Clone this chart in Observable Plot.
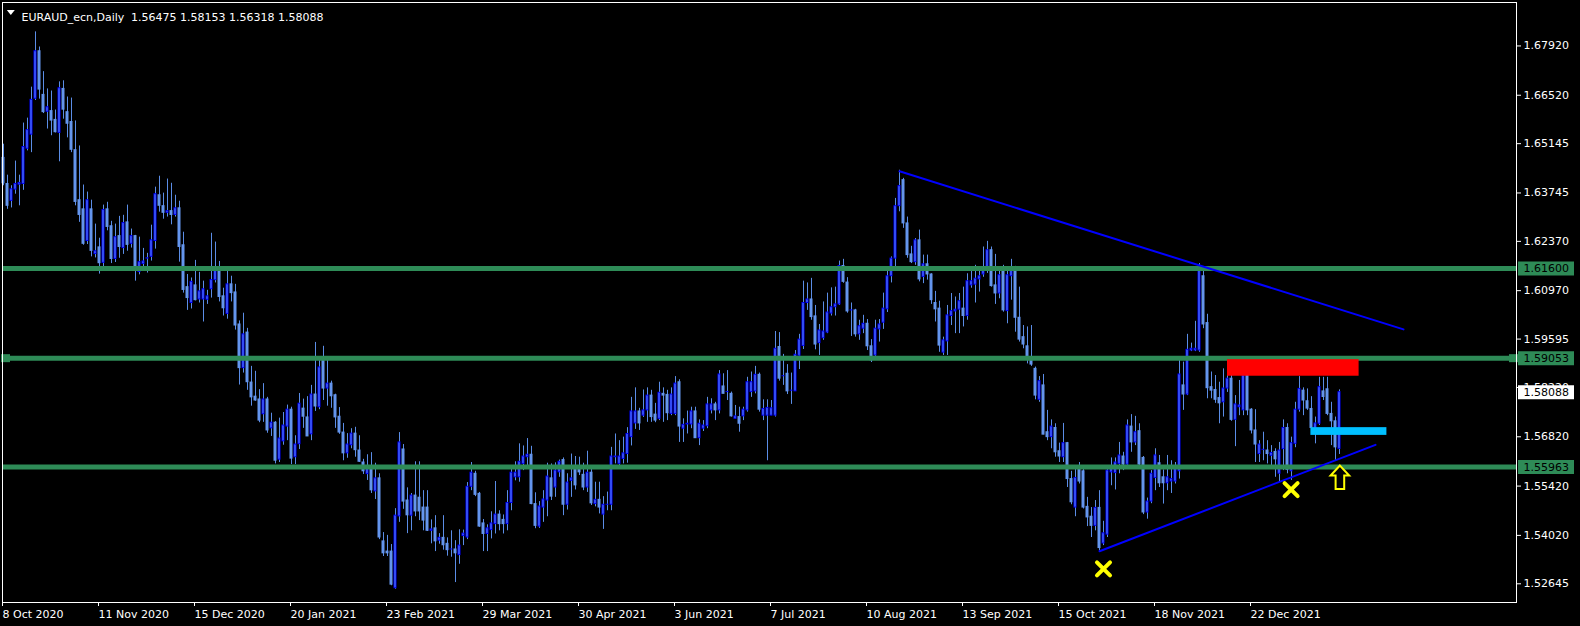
<!DOCTYPE html>
<html><head><meta charset="utf-8">
<script src="https://cdn.jsdelivr.net/npm/d3@7"></script>
<script src="https://cdn.jsdelivr.net/npm/@observablehq/plot@0.6"></script>
<style>
html,body{margin:0;padding:0;background:#000;}
#chart{width:1580px;height:626px;overflow:hidden;}
</style></head><body><div id="chart"></div>
<script>
const symbolName = "EURAUD_ecn,Daily";
const headerValues = "1.56475 1.58153 1.56318 1.58088";

const opens = [
1.6474,1.6400,1.6352,1.6384,1.6398,1.6400,1.6500,1.6540,1.6642,1.6777,
1.6653,1.6605,1.6607,1.6582,1.6545,1.6670,1.6604,1.6576,1.6496,1.6354,
1.6328,1.6238,1.6328,1.6201,1.6220,1.6176,1.6328,1.6280,1.6187,1.6252,
1.6218,1.6291,1.6230,1.6252,1.6150,1.6173,1.6188,1.6193,1.6238,1.6368,
1.6337,1.6318,1.6323,1.6312,1.6331,1.6226,1.6107,1.6062,1.6112,1.6072,
1.6072,1.6071,1.6101,1.6127,1.6158,1.6081,1.6031,1.6115,1.6092,1.6001,
1.5877,1.5978,1.5836,1.5796,1.5788,1.5746,1.5788,1.5706,1.5722,1.5617,
1.5669,1.5711,1.5759,1.5624,1.5661,1.5762,1.5737,1.5689,1.5802,1.5766,
1.5899,1.5819,1.5833,1.5800,1.5739,1.5694,1.5635,1.5658,1.5691,1.5643,
1.5609,1.5576,1.5595,1.5527,1.5564,1.5385,1.5356,1.5356,1.5252,1.5456,
1.5646,1.5501,1.5458,1.5515,1.5509,1.5481,1.5481,1.5415,1.5422,1.5387,
1.5395,1.5378,1.5362,1.5362,1.5346,1.5400,1.5396,1.5540,1.5577,1.5520,
1.5436,1.5406,1.5417,1.5434,1.5461,1.5446,1.5434,1.5494,1.5567,1.5567,
1.5605,1.5624,1.5631,1.5491,1.5427,1.5481,1.5501,1.5564,1.5538,1.5581,
1.5616,1.5489,1.5557,1.5588,1.5591,1.5574,1.5538,1.5580,1.5491,1.5503,
1.5461,1.5489,1.5489,1.5624,1.5605,1.5619,1.5633,1.5681,1.5720,1.5754,
1.5742,1.5757,1.5799,1.5745,1.5733,1.5804,1.5801,1.5747,1.5747,1.5837,
1.5705,1.5717,1.5717,1.5754,1.5678,1.5705,1.5712,1.5757,1.5774,1.5757,
1.5825,1.5809,1.5804,1.5733,1.5738,1.5740,1.5757,1.5809,1.5811,1.5858,
1.5742,1.5742,1.5742,1.5742,1.5937,1.5854,1.5861,1.5813,1.5811,1.5912,
1.5940,1.6062,1.6072,1.6024,1.5948,1.5962,1.5978,1.6032,1.6050,1.6058,
1.6167,1.6120,1.6041,1.6041,1.5973,1.5989,1.6003,1.5939,1.5913,1.5987,
1.6006,1.6044,1.6138,1.6188,1.6337,1.6411,1.6288,1.6200,1.6178,1.6240,
1.6136,1.6172,1.6143,1.6062,1.6046,1.5921,1.5953,1.6025,1.6038,1.6043,
1.6046,1.6025,1.6112,1.6114,1.6129,1.6143,1.6155,1.6212,1.6112,1.6089,
1.6164,1.6039,1.6138,1.6157,1.6020,1.5965,1.5939,1.5901,1.5875,1.5787,
1.5828,1.5695,1.5681,1.5707,1.5641,1.5624,1.5664,1.5562,1.5481,1.5591,
1.5584,1.5483,1.5455,1.5429,1.5480,1.5379,1.5404,1.5581,1.5579,1.5605,
1.5626,1.5603,1.5711,1.5666,1.5698,1.5622,1.5467,1.5498,1.5565,1.5607,
1.5567,1.5550,1.5555,1.5555,1.5584,1.5828,1.5802,1.5927,1.5927,1.5927,
1.6138,1.6005,1.5823,1.5815,1.5792,1.5780,1.5819,1.5847,1.5730,1.5766,
1.5757,1.5856,1.5759,1.5700,1.5633,1.5645,1.5643,1.5628,1.5639,1.5577,
1.5647,1.5707,1.5584,1.5662,1.5759,1.5813,1.5783,1.5761,1.5704,1.5719,
1.5811,1.5817,1.5747,1.5726,1.56475];

const highs = [
1.6513,1.6425,1.6395,1.6465,1.6425,1.6573,1.6587,1.6675,1.6832,1.6789,
1.6719,1.6670,1.6664,1.6610,1.6690,1.6693,1.6647,1.6644,1.6579,1.6508,
1.6397,1.6377,1.6354,1.6286,1.6246,1.6340,1.6348,1.6294,1.6286,1.6308,
1.6311,1.6340,1.6272,1.6254,1.6249,1.6217,1.6203,1.6283,1.6391,1.6422,
1.6374,1.6414,1.6402,1.6368,1.6351,1.6263,1.6143,1.6133,1.6183,1.6149,
1.6124,1.6098,1.6260,1.6235,1.6180,1.6104,1.6155,1.6138,1.6115,1.6011,
1.6033,1.5990,1.5882,1.5868,1.5816,1.5833,1.5794,1.5749,1.5725,1.5735,
1.5751,1.5772,1.5766,1.5685,1.5805,1.5789,1.5796,1.5828,1.5950,1.5899,
1.5939,1.5899,1.5840,1.5803,1.5765,1.5720,1.5691,1.5705,1.5709,1.5685,
1.5618,1.5631,1.5637,1.5607,1.5577,1.5410,1.5402,1.5376,1.5478,1.5694,
1.5660,1.5537,1.5521,1.5611,1.5611,1.5529,1.5529,1.5446,1.5458,1.5407,
1.5458,1.5395,1.5415,1.5387,1.5418,1.5417,1.5552,1.5609,1.5584,1.5524,
1.5447,1.5432,1.5469,1.5555,1.5472,1.5460,1.5529,1.5598,1.5611,1.5662,
1.5656,1.5677,1.5655,1.5523,1.5498,1.5529,1.5607,1.5605,1.5608,1.5616,
1.5622,1.5577,1.5633,1.5626,1.5624,1.5607,1.5641,1.5595,1.5553,1.5553,
1.5512,1.5525,1.5652,1.5690,1.5671,1.5681,1.5708,1.5794,1.5821,1.5763,
1.5815,1.5821,1.5814,1.5777,1.5837,1.5821,1.5814,1.5821,1.5853,1.5844,
1.5733,1.5755,1.5766,1.5766,1.5730,1.5728,1.5794,1.5790,1.5780,1.5870,
1.5861,1.5870,1.5809,1.5771,1.5766,1.5766,1.5851,1.5866,1.5882,1.5863,
1.5787,1.5787,1.5785,1.5981,1.5978,1.5916,1.5887,1.5863,1.5927,1.5973,
1.6124,1.6119,1.6132,1.6055,1.6001,1.6065,1.6090,1.6105,1.6107,1.6181,
1.6186,1.6134,1.6062,1.6044,1.6013,1.6027,1.6015,1.5958,1.6013,1.6015,
1.6090,1.6157,1.6193,1.6359,1.6439,1.6416,1.6306,1.6223,1.6245,1.6269,
1.6198,1.6198,1.6145,1.6095,1.6067,1.5965,1.6055,1.6089,1.6079,1.6089,
1.6107,1.6145,1.6160,1.6169,1.6164,1.6221,1.6237,1.6221,1.6200,1.6164,
1.6169,1.6164,1.6186,1.6166,1.6107,1.5998,1.5994,1.5998,1.5880,1.5853,
1.5859,1.5757,1.5730,1.5719,1.5664,1.5720,1.5666,1.5584,1.5591,1.5609,
1.5595,1.5510,1.5481,1.5501,1.5529,1.5442,1.5595,1.5622,1.5622,1.5666,
1.5638,1.5730,1.5745,1.5740,1.5719,1.5626,1.5508,1.5586,1.5648,1.5629,
1.5588,1.5629,1.5614,1.5609,1.5901,1.5894,1.5973,1.5948,1.6010,1.6174,
1.6157,1.6030,1.5866,1.5856,1.5837,1.5875,1.5899,1.5882,1.5799,1.5842,
1.5885,1.5882,1.5762,1.5759,1.5671,1.5695,1.5671,1.5657,1.5648,1.5666,
1.5730,1.5719,1.5681,1.5780,1.5853,1.5821,1.5818,1.5796,1.5738,1.5851,
1.5851,1.5851,1.5780,1.5738,1.58153];

const lows = [
1.6395,1.6328,1.6332,1.6371,1.6338,1.6382,1.6494,1.6489,1.6637,1.6641,
1.6600,1.6556,1.6537,1.6545,1.6463,1.6584,1.6531,1.6489,1.6338,1.6291,
1.6226,1.6228,1.6193,1.6190,1.6144,1.6164,1.6267,1.6174,1.6177,1.6189,
1.6200,1.6209,1.6218,1.6124,1.6142,1.6159,1.6147,1.6181,1.6215,1.6320,
1.6300,1.6306,1.6284,1.6306,1.6178,1.6090,1.6041,1.6045,1.6068,1.6062,
1.6008,1.6058,1.6076,1.6119,1.6065,1.6025,1.6016,1.6065,1.5985,1.5829,
1.5863,1.5814,1.5769,1.5783,1.5722,1.5723,1.5692,1.5683,1.5605,1.5609,
1.5658,1.5671,1.5603,1.5603,1.5646,1.5706,1.5683,1.5671,1.5754,1.5759,
1.5785,1.5769,1.5763,1.5706,1.5689,1.5614,1.5621,1.5648,1.5624,1.5609,
1.5575,1.5558,1.5521,1.5504,1.5390,1.5342,1.5342,1.5259,1.5249,1.5439,
1.5476,1.5407,1.5415,1.5455,1.5444,1.5415,1.5413,1.5378,1.5356,1.5377,
1.5360,1.5343,1.5340,1.5268,1.5320,1.5373,1.5390,1.5529,1.5512,1.5425,
1.5356,1.5356,1.5392,1.5406,1.5415,1.5406,1.5415,1.5472,1.5557,1.5553,
1.5586,1.5592,1.5489,1.5421,1.5422,1.5439,1.5455,1.5501,1.5510,1.5567,
1.5458,1.5474,1.5510,1.5531,1.5572,1.5529,1.5524,1.5487,1.5483,1.5463,
1.5419,1.5472,1.5472,1.5605,1.5595,1.5605,1.5607,1.5656,1.5703,1.5700,
1.5737,1.5723,1.5723,1.5722,1.5728,1.5723,1.5728,1.5742,1.5742,1.5666,
1.5666,1.5690,1.5705,1.5678,1.5657,1.5697,1.5705,1.5747,1.5728,1.5747,
1.5804,1.5785,1.5738,1.5733,1.5695,1.5728,1.5752,1.5794,1.5804,1.5752,
1.5728,1.5614,1.5742,1.5738,1.5840,1.5828,1.5802,1.5774,1.5811,1.5873,
1.5930,1.6041,1.6013,1.5929,1.5913,1.5956,1.5975,1.6025,1.6025,1.6055,
1.6118,1.6033,1.5967,1.5965,1.5956,1.5975,1.5927,1.5893,1.5899,1.5951,
1.5987,1.6035,1.6119,1.6164,1.6321,1.6274,1.6189,1.6174,1.6169,1.6122,
1.6117,1.6127,1.6058,1.6008,1.5922,1.5913,1.5913,1.5998,1.5975,1.5975,
1.5994,1.6013,1.6104,1.6062,1.6093,1.6135,1.6146,1.6107,1.6058,1.6074,
1.6036,1.6003,1.6070,1.5979,1.5951,1.5932,1.5889,1.5882,1.5787,1.5780,
1.5688,1.5671,1.5648,1.5624,1.5609,1.5609,1.5538,1.5489,1.5455,1.5548,
1.5477,1.5427,1.5396,1.5415,1.5358,1.5373,1.5396,1.5543,1.5531,1.5577,
1.5586,1.5600,1.5638,1.5657,1.5595,1.5461,1.5448,1.5492,1.5529,1.5538,
1.5491,1.5529,1.5521,1.5548,1.5562,1.5757,1.5799,1.5924,1.5924,1.5922,
1.5989,1.5790,1.5790,1.5777,1.5719,1.5738,1.5808,1.5726,1.5654,1.5742,
1.5742,1.5742,1.5690,1.5609,1.5609,1.5614,1.5605,1.5592,1.5567,1.5553,
1.5586,1.5577,1.5558,1.5651,1.5752,1.5742,1.5757,1.5700,1.5662,1.5714,
1.5785,1.5742,1.5657,1.5614,1.56318];

const closes = [
1.6402,1.6338,1.6385,1.6400,1.6403,1.6505,1.6553,1.6639,1.6777,1.6668,
1.6604,1.6618,1.6580,1.6547,1.6672,1.6611,1.6571,1.6497,1.6349,1.6312,
1.6230,1.6354,1.6210,1.6209,1.6175,1.6326,1.6278,1.6187,1.6249,1.6221,
1.6289,1.6227,1.6252,1.6158,1.6178,1.6180,1.6189,1.6240,1.6371,1.6338,
1.6318,1.6323,1.6312,1.6331,1.6221,1.6099,1.6076,1.6122,1.6070,1.6095,
1.6101,1.6081,1.6127,1.6158,1.6079,1.6047,1.6115,1.6090,1.5998,1.5877,
1.5973,1.5837,1.5794,1.5785,1.5728,1.5788,1.5700,1.5722,1.5614,1.5677,
1.5714,1.5759,1.5620,1.5660,1.5776,1.5739,1.5683,1.5802,1.5768,1.5879,
1.5819,1.5833,1.5797,1.5737,1.5694,1.5635,1.5660,1.5691,1.5644,1.5611,
1.5584,1.5595,1.5530,1.5564,1.5396,1.5351,1.5351,1.5262,1.5458,1.5666,
1.5498,1.5459,1.5515,1.5470,1.5470,1.5444,1.5415,1.5419,1.5385,1.5395,
1.5374,1.5360,1.5362,1.5351,1.5373,1.5407,1.5540,1.5580,1.5517,1.5427,
1.5406,1.5422,1.5436,1.5461,1.5434,1.5434,1.5494,1.5580,1.5580,1.5611,
1.5626,1.5631,1.5491,1.5429,1.5484,1.5504,1.5569,1.5512,1.5586,1.5611,
1.5489,1.5552,1.5564,1.5544,1.5581,1.5538,1.5580,1.5493,1.5503,1.5481,
1.5489,1.5489,1.5626,1.5626,1.5626,1.5635,1.5690,1.5754,1.5754,1.5720,
1.5757,1.5799,1.5738,1.5728,1.5807,1.5799,1.5749,1.5802,1.5833,1.5711,
1.5716,1.5719,1.5754,1.5678,1.5719,1.5714,1.5774,1.5774,1.5757,1.5859,
1.5804,1.5809,1.5740,1.5740,1.5719,1.5759,1.5837,1.5837,1.5858,1.5759,
1.5761,1.5764,1.5763,1.5932,1.5847,1.5854,1.5811,1.5813,1.5915,1.5958,
1.6062,1.6072,1.6022,1.5944,1.5984,1.5981,1.6035,1.6050,1.6058,1.6167,
1.6122,1.6038,1.6041,1.5973,1.5996,1.6003,1.5939,1.5899,1.5989,1.6001,
1.6046,1.6138,1.6188,1.6337,1.6394,1.6288,1.6198,1.6178,1.6240,1.6129,
1.6172,1.6143,1.6070,1.6044,1.5941,1.5956,1.6027,1.6039,1.6043,1.6067,
1.6025,1.6124,1.6124,1.6131,1.6138,1.6157,1.6212,1.6110,1.6089,1.6141,
1.6041,1.6141,1.6164,1.6020,1.5958,1.5944,1.5901,1.5887,1.5799,1.5840,
1.5688,1.5681,1.5711,1.5638,1.5626,1.5664,1.5562,1.5496,1.5565,1.5555,
1.5481,1.5453,1.5429,1.5480,1.5366,1.5408,1.5586,1.5591,1.5609,1.5629,
1.5603,1.5714,1.5666,1.5695,1.5603,1.5467,1.5498,1.5577,1.5629,1.5550,
1.5550,1.5567,1.5562,1.5591,1.5859,1.5802,1.5929,1.5932,1.5932,1.6157,
1.6001,1.5820,1.5813,1.5787,1.5777,1.5819,1.5847,1.5730,1.5774,1.5771,
1.5856,1.5757,1.5700,1.5660,1.5660,1.5645,1.5633,1.5636,1.5618,1.5643,
1.5707,1.5588,1.5664,1.5759,1.5818,1.5785,1.5762,1.5707,1.5720,1.5823,
1.5795,1.5747,1.5726,1.5652,1.58088];

const dateTickBars = [0,24,48,72,96,120,144,168,192,216,240,264,288,312];
const dateTickLabels = ["8 Oct 2020","11 Nov 2020","15 Dec 2020","20 Jan 2021","23 Feb 2021","29 Mar 2021","30 Apr 2021","3 Jun 2021","7 Jul 2021","10 Aug 2021","13 Sep 2021","15 Oct 2021","18 Nov 2021","22 Dec 2021"];
const priceTicks = [1.67920,1.66520,1.65145,1.63745,1.62370,1.60970,1.59595,1.58220,1.56820,1.55420,1.54020,1.52645];
const levels = [1.61600, 1.59053, 1.55963];
const selectedLevel = [1.59053];
const lastPrice = [1.58088];
const trendUpper = [{bar:224, price:1.6436},{bar:350, price:1.5987}];
const trendLower = [{bar:274, price:1.5357},{bar:343, price:1.5659}];
const redZone = [{bar1:306, bar2:338.9, top:1.5901, bottom:1.5854}];
const cyanZone = [{bar1:326.85, bar2:345.85, top:1.5708, bottom:1.5686}];
const crossMarks = [{bar:275, price:1.5307},{bar:321.9, price:1.5532}];
const arrowMarks = [{bar:334.1, price:1.5567}];

const xDomain = [-0.25, 378.25];
const yDomain = [1.52114, 1.69154];

const candles = opens.map((o, i) => ({i, o, h: highs[i], l: lows[i], c: closes[i]}));
const bulls = candles.filter(d => d.c >= d.o);
const bears = candles.filter(d => d.c < d.o);

const BODY = "#6495ed", BULL_EDGE = "#0000ff", WICK = "#5b8de6";
const GREEN = "#2e8b57";
const HW = 0.375;

const arrowSymbol = {draw(ctx, size) {
  const s = Math.sqrt(size / Math.PI);
  ctx.moveTo(0, -11.7*s); ctx.lineTo(9.3*s, -1.7*s); ctx.lineTo(4.3*s, -1.7*s);
  ctx.lineTo(4.3*s, 11.7*s); ctx.lineTo(-4.3*s, 11.7*s); ctx.lineTo(-4.3*s, -1.7*s);
  ctx.lineTo(-9.3*s, -1.7*s); ctx.closePath();
}};
const menuSymbol = {draw(ctx, size) {
  const s = Math.sqrt(size / Math.PI);
  ctx.moveTo(-4*s, -2.5*s); ctx.lineTo(4*s, -2.5*s); ctx.lineTo(0, 2.5*s); ctx.closePath();
}};

const chart = Plot.plot({
  width: 1580, height: 626,
  marginLeft: 2, marginRight: 64, marginTop: 2, marginBottom: 24,
  x: {type: "linear", domain: xDomain, axis: null},
  y: {type: "linear", domain: yDomain, axis: null},
  style: {background: "#000", color: "#fff", fontFamily: "DejaVu Sans", fontSize: "11px"},
  marks: [
    Plot.ruleX(candles, {x: "i", y1: "l", y2: "h", stroke: WICK, strokeWidth: 1}),
    Plot.rect(bears, {x1: d => d.i - HW, x2: d => d.i + HW, y1: "o", y2: "c", fill: BODY, insetTop: -0.5, insetBottom: -0.5}),
    Plot.rect(bulls, {x1: d => d.i - HW, x2: d => d.i + HW, y1: "o", y2: "c", fill: BULL_EDGE, insetTop: -0.5, insetBottom: -0.5}),
    Plot.rect(bulls, {x1: d => d.i - HW, x2: d => d.i + HW, y1: "o", y2: "c", fill: BODY, insetLeft: 1, insetRight: 1, insetTop: 0.5, insetBottom: 0.5}),
    Plot.ruleY(levels, {y: d => d, stroke: GREEN, strokeWidth: 5}),
    Plot.ruleY(selectedLevel, {y: d => d, x1: xDomain[0] - 0.25, x2: xDomain[0] + 2, stroke: GREEN, strokeWidth: 8}),
    Plot.ruleY(selectedLevel, {y: d => d, x1: xDomain[1] - 1.75, x2: xDomain[1] + 0.5, stroke: GREEN, strokeWidth: 8}),
    Plot.rect(redZone, {x1: "bar1", x2: "bar2", y1: "bottom", y2: "top", fill: "#ff0000"}),
    Plot.rect(cyanZone, {x1: "bar1", x2: "bar2", y1: "bottom", y2: "top", fill: "#00bfff"}),
    Plot.line(trendUpper, {x: "bar", y: "price", stroke: "#0000ff", strokeWidth: 2}),
    Plot.line(trendLower, {x: "bar", y: "price", stroke: "#0000ff", strokeWidth: 2}),
    Plot.dot(crossMarks, {x: "bar", y: "price", symbol: "times", r: 6, stroke: "#ffff00", strokeWidth: 4, strokeLinecap: "round"}),
    Plot.dot(arrowMarks, {x: "bar", y: "price", symbol: arrowSymbol, r: 1, fill: "#000", stroke: "#ffff00", strokeWidth: 2}),
    Plot.frame({stroke: "#fff"}),
    Plot.axisY(priceTicks, {anchor: "right", tickSize: 4, tickPadding: 3, tickFormat: d => d.toFixed(5), label: null, fontSize: 11, color: "#fff"}),
    Plot.axisX(dateTickBars, {anchor: "bottom", tickSize: 4, tickPadding: 3.5, tickFormat: d => dateTickLabels[dateTickBars.indexOf(d)], textAnchor: "start", dx: -1, label: null, fontSize: 11, color: "#fff"}),
    Plot.ruleY(levels, {y: d => d, x1: xDomain[1] + 0.5, x2: xDomain[1] + 14.5, stroke: GREEN, strokeWidth: 14}),
    Plot.text(levels, {y: d => d, frameAnchor: "right", dx: 7, textAnchor: "start", text: d => d.toFixed(5), fill: "#000", fontSize: 11}),
    Plot.ruleY(lastPrice, {y: d => d, x1: xDomain[1] + 0.5, x2: xDomain[1] + 14.5, stroke: "#fff", strokeWidth: 14}),
    Plot.text(lastPrice, {y: d => d, frameAnchor: "right", dx: 7, textAnchor: "start", text: d => d.toFixed(5), fill: "#000", fontSize: 11}),
    Plot.dot([symbolName], {frameAnchor: "top-left", dx: 8.3, dy: 10, symbol: menuSymbol, r: 1, fill: "#fff"}),
    Plot.text([symbolName], {frameAnchor: "top-left", dx: 19, dy: 10.5, textAnchor: "start", fill: "#fff", fontSize: 11}),
    Plot.text([headerValues], {frameAnchor: "top-left", dx: 128.5, dy: 10.5, textAnchor: "start", fill: "#fff", fontSize: 11})
  ]
});
document.getElementById("chart").appendChild(chart);
</script>
</body></html>
